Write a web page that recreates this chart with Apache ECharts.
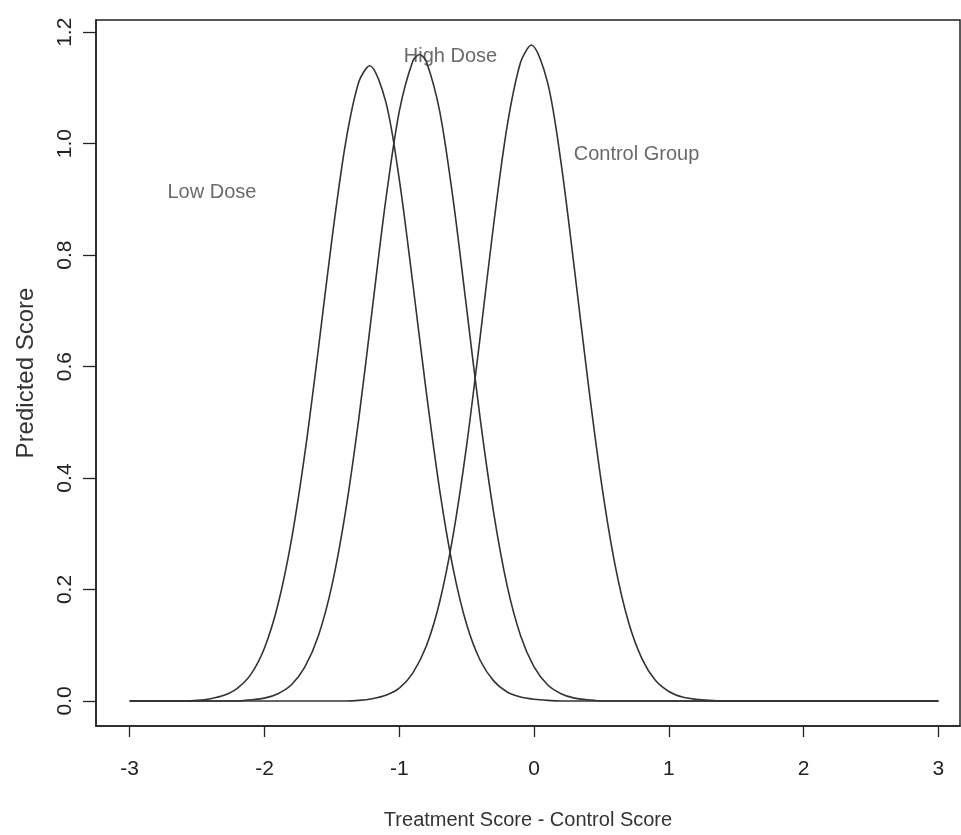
<!DOCTYPE html>
<html lang="en">
<head>
    <meta charset="UTF-8">
    <title>Predicted Score</title>
    <script src="https://cdn.jsdelivr.net/npm/echarts@6/dist/echarts.min.js"></script>
    <style>
        html, body { margin: 0; padding: 0; background: #fff; }
        #main { width: 961px; height: 835px; }
    </style>
</head>
<body>
    <div id="main"></div>
    <script>
        // values
        var lowDoseX = [-3.0, -2.6, -2.5, -2.4, -2.3, -2.2, -2.1, -2.0, -1.9, -1.8, -1.7, -1.6, -1.5, -1.4, -1.3, -1.22, -1.1, -1.0, -0.9, -0.8, -0.7, -0.6, -0.5, -0.4, -0.3, -0.2, -0.1, 0.0, 0.1, 0.2, 3.0]
        var lowDoseY = [0, 0, 0.001, 0.004, 0.010, 0.023, 0.048, 0.095, 0.173, 0.289, 0.445, 0.632, 0.828, 0.999, 1.111, 1.14, 1.075, 0.936, 0.750, 0.555, 0.378, 0.237, 0.137, 0.073, 0.036, 0.016, 0.007, 0.003, 0.001, 0, 0]

        var highDoseX = [-3.0, -2.2, -2.1, -2.0, -1.9, -1.8, -1.7, -1.6, -1.5, -1.4, -1.3, -1.2, -1.1, -1.0, -0.9, -0.85, -0.8, -0.7, -0.6, -0.5, -0.4, -0.3, -0.2, -0.1, 0.0, 0.1, 0.2, 0.3, 0.4, 0.5, 3.0]
        var highDoseY = [0, 0, 0.002, 0.005, 0.013, 0.029, 0.061, 0.117, 0.207, 0.338, 0.507, 0.704, 0.899, 1.058, 1.148, 1.16, 1.148, 1.058, 0.899, 0.704, 0.507, 0.338, 0.207, 0.117, 0.061, 0.029, 0.013, 0.005, 0.002, 0, 0]

        var controlX = [-3.0, -1.4, -1.3, -1.2, -1.1, -1.0, -0.9, -0.8, -0.7, -0.6, -0.5, -0.4, -0.3, -0.2, -0.1, -0.02, 0.1, 0.2, 0.3, 0.4, 0.5, 0.6, 0.7, 0.8, 0.9, 1.0, 1.1, 1.2, 1.3, 1.4, 3.0]
        var controlY = [0, 0, 0.001, 0.004, 0.010, 0.023, 0.050, 0.098, 0.178, 0.298, 0.459, 0.653, 0.855, 1.031, 1.146, 1.177, 1.110, 0.966, 0.774, 0.573, 0.391, 0.245, 0.142, 0.076, 0.037, 0.017, 0.007, 0.003, 0.001, 0, 0]

        var xTicks = [-3, -2, -1, 0, 1, 2, 3]
        var yTicks = [0, 0.2, 0.4, 0.6, 0.8, 1.0, 1.2]

        var noteNames = ['Low Dose', 'High Dose', 'Control Group']
        var noteX = [-2.39, -0.62, 0.76]
        var noteY = [0.912, 1.157, 0.98]

        function pairs(xs, ys) {
            return xs.map(function (x, i) { return [x, ys[i]] })
        }

        var font = "'Liberation Sans', Arial, sans-serif"

        var lineStyle = { color: '#333', width: 1.6 }

        function curve(name, xs, ys) {
            return {
                name: name,
                type: 'line',
                data: pairs(xs, ys),
                showSymbol: false,
                smooth: 0.3,
                lineStyle: lineStyle,
                silent: true,
                z: 3
            }
        }

        var chart = echarts.init(document.getElementById('main'))
        var option = {
            backgroundColor: '#fff',
            animation: false,
            grid: {
                left: 96, top: 20, right: 1, bottom: 107,
                show: true, borderColor: '#222', borderWidth: 1.5,
                backgroundColor: 'transparent'
            },
            xAxis: {
                type: 'value',
                // plot box is cut off on the right, so the range stops short of R's usual 4% pad
                min: -3.25, max: 3.16,
                name: 'Treatment Score - Control Score',
                nameLocation: 'middle',
                nameGap: 84,
                nameTextStyle: { fontFamily: font, fontSize: 20, color: '#333' },
                axisLine: { onZero: false, lineStyle: { color: '#222', width: 1.5 } },
                axisTick: { customValues: xTicks, length: 11, lineStyle: { color: '#222', width: 1.3 } },
                axisLabel: {
                    customValues: xTicks, margin: 33,
                    fontFamily: font, fontSize: 21, color: '#222'
                },
                splitLine: { show: false }
            },
            yAxis: {
                type: 'value',
                min: -0.045, max: 1.222,
                name: 'Predicted Score',
                nameLocation: 'middle',
                nameGap: 58,
                nameTextStyle: { fontFamily: font, fontSize: 24, color: '#333' },
                axisLine: { onZero: false, lineStyle: { color: '#222', width: 1.5 } },
                axisTick: { customValues: yTicks, length: 13, lineStyle: { color: '#222', width: 1.3 } },
                axisLabel: {
                    customValues: yTicks, rotate: 90, margin: 20,
                    fontFamily: font, fontSize: 21, color: '#222',
                    formatter: function (v) { return v.toFixed(1) }
                },
                splitLine: { show: false }
            },
            series: [
                curve('Low Dose', lowDoseX, lowDoseY),
                curve('High Dose', highDoseX, highDoseY),
                curve('Control Group', controlX, controlY),
                {
                    type: 'scatter',
                    symbolSize: 0,
                    silent: true,
                    z: 5,
                    data: noteNames.map(function (n, i) { return { name: n, value: [noteX[i], noteY[i]] } }),
                    label: {
                        show: true,
                        position: 'inside',
                        formatter: '{b}',
                        fontFamily: font,
                        fontSize: 20,
                        color: '#444'
                    }
                }
            ]
        }
        chart.setOption(option)
    </script>
</body>
</html>
